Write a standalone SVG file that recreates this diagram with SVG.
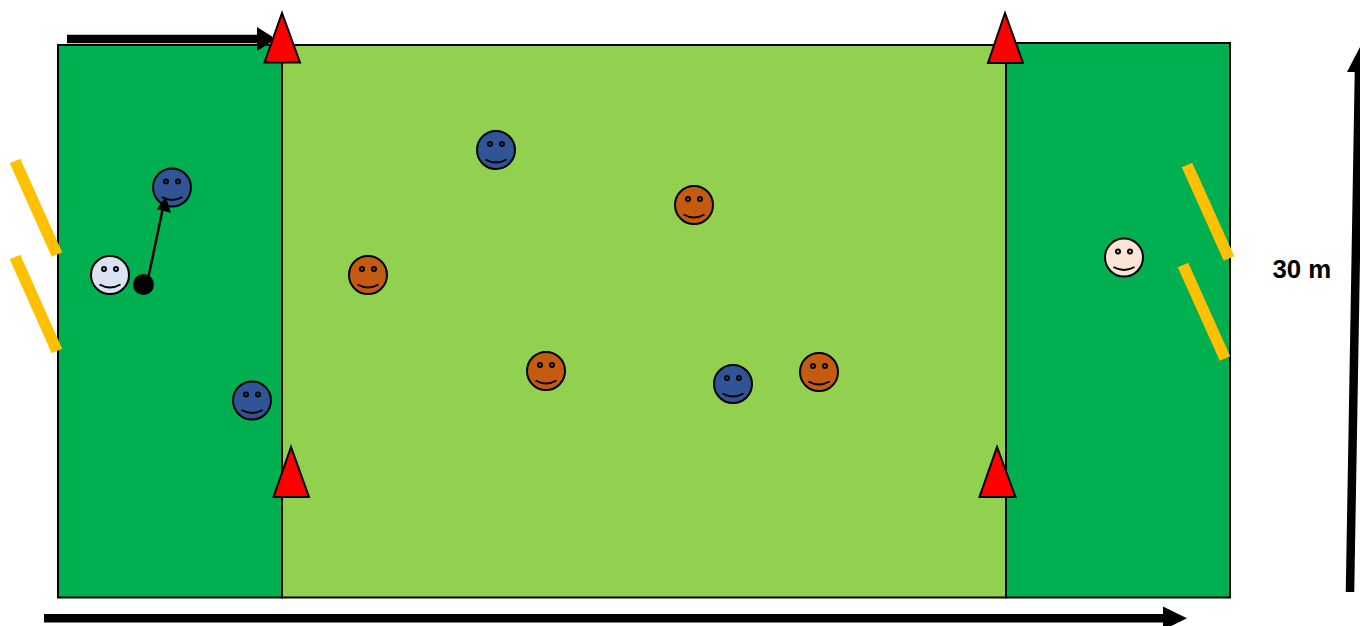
<svg xmlns="http://www.w3.org/2000/svg" width="1360" height="626" viewBox="0 0 1360 626">
<style>
.o{stroke:#000;stroke-width:2}
.end{fill:#00B050}
.mid{fill:#92D050}
.cone{fill:#F00;stroke:#000;stroke-width:2;stroke-linejoin:miter}
.post{stroke:#FFC000;stroke-width:11.500;fill:none}
.blue{fill:#2F5597}
.orange{fill:#C55A11}
.light{fill:#DAE3F3}
.peach{fill:#FBE5D6}
.thick{stroke:#000;stroke-width:8.500;fill:none}
.label{font-family:"Liberation Sans",Arial,sans-serif;font-weight:700;font-size:25.800px;fill:#000}
</style>
<defs>
<g id="face">
<circle r="19" stroke="#000" stroke-width="2"/>
<circle cx="-6" cy="-6" r="2" stroke="#000" stroke-width="2"/>
<circle cx="6" cy="-6" r="2" stroke="#000" stroke-width="2"/>
<path d="M-10.500 9.500Q0 15.500 10.500 9.500" fill="none" stroke="#000" stroke-width="2"/>
</g>
</defs>
<rect width="1360" height="626" fill="#fff"/>
<g id="pitch">
<rect id="zone-left" class="end o" x="58" y="45" width="224" height="552.500"/>
<rect id="zone-middle" class="mid o" x="282" y="45" width="724" height="552.500"/>
<rect id="zone-right" class="end o" x="1006" y="43" width="224" height="554.500"/>
</g>
<g id="post-left-1"><path class="post" d="M15 161L57 254.500"/></g>
<g id="post-left-2"><path class="post" d="M15 257L57 351"/></g>
<g id="post-right-1"><path class="post" d="M1187 165L1229 258.500"/></g>
<g id="post-right-2"><path class="post" d="M1183 265L1225 358.500"/></g>
<g id="cone-top-left"><path class="cone" d="M282 13L264.500 62.500H300Z"/></g>
<g id="cone-top-right"><path class="cone" d="M1005 13L988 63H1023Z"/></g>
<g id="cone-bottom-left"><path class="cone" d="M291 447L273.500 497H309Z"/></g>
<g id="cone-bottom-right"><path class="cone" d="M997 447L979.500 497H1015.500Z"/></g>
<g id="player-blue-1" class="blue"><use href="#face" transform="translate(172 187.500)"/></g>
<g id="player-light" class="light"><use href="#face" transform="translate(110 275)"/></g>
<g id="player-blue-2" class="blue"><use href="#face" transform="translate(252 400.500)"/></g>
<g id="player-blue-3" class="blue"><use href="#face" transform="translate(496 150)"/></g>
<g id="player-orange-1" class="orange"><use href="#face" transform="translate(694 205)"/></g>
<g id="player-orange-2" class="orange"><use href="#face" transform="translate(368 275)"/></g>
<g id="player-orange-3" class="orange"><use href="#face" transform="translate(546 371)"/></g>
<g id="player-blue-4" class="blue"><use href="#face" transform="translate(733 384)"/></g>
<g id="player-orange-4" class="orange"><use href="#face" transform="translate(819 372)"/></g>
<g id="player-peach" class="peach"><use href="#face" transform="translate(1124 257.500)"/></g>
<g id="ball"><circle cx="143.500" cy="284.500" r="10.500"/></g>
<g id="connectors">
<path class="thick" d="M67 39H258"/>
<path d="M257 27L272 36.500L273 40.900L257 51Z"/>
<path class="thick" d="M44 618.300H1164"/>
<path d="M1163 606.500L1187 618.300L1163 630Z"/>
<path class="thick" d="M1350 592L1359 70"/>
<path d="M1360 47L1347 72H1373Z"/>
<path d="M148 279L162.500 210" stroke="#000" stroke-width="2.500" fill="none"/>
<path d="M165.700 196.700L156.700 209.300L171 212.700Z"/>
</g>
<g id="distance-label"><text class="label" x="1272.500" y="278">30 m</text></g>
</svg>
